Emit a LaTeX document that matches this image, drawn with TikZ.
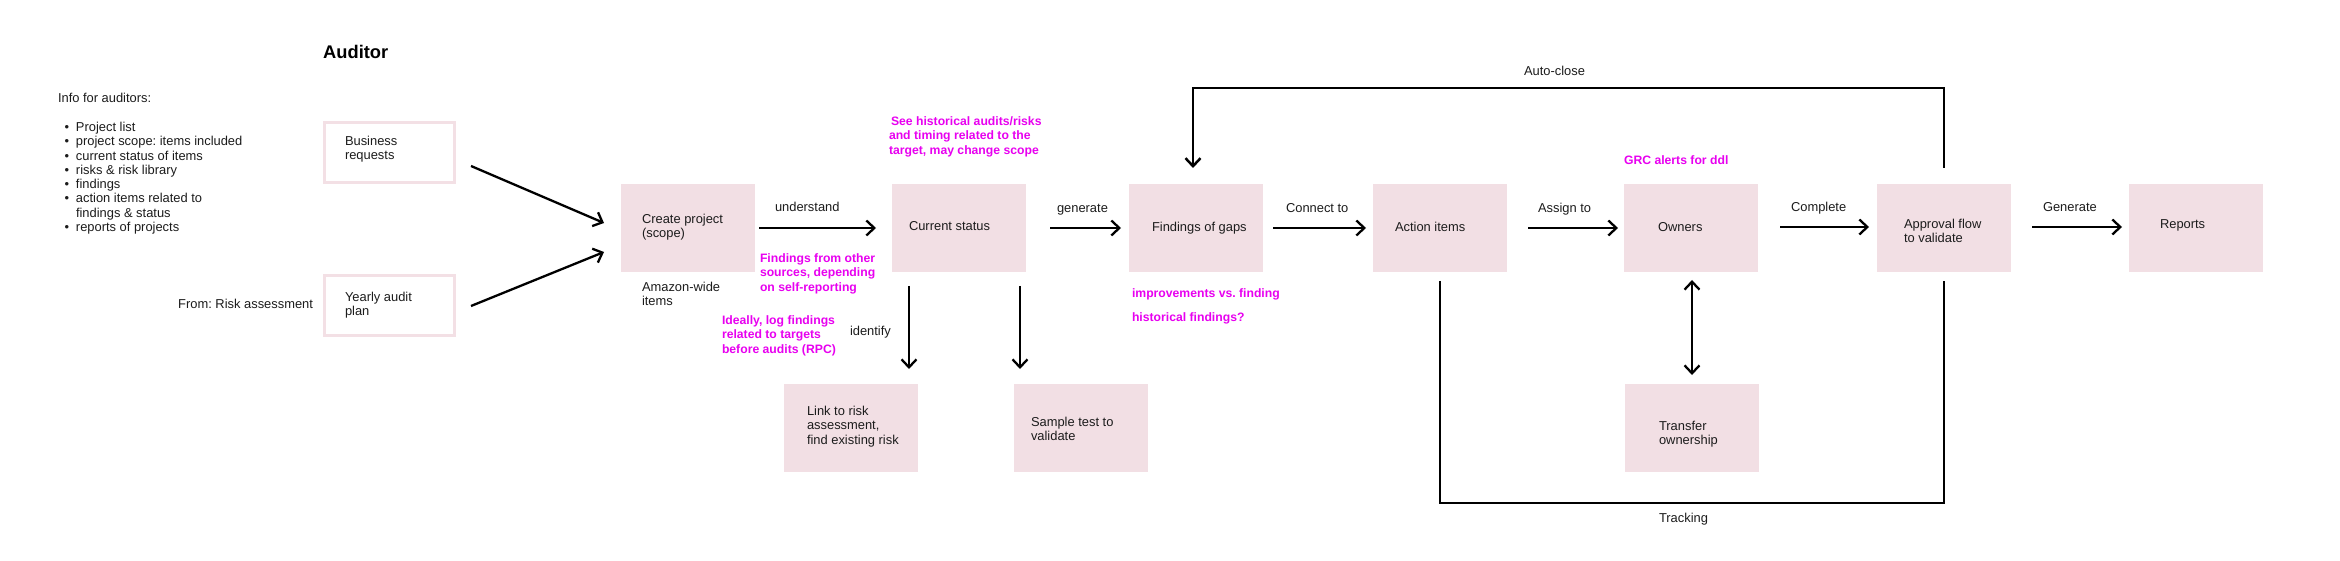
\documentclass[tikz,border=0pt]{standalone}
\usepackage{fontspec}
\setmainfont{Liberation Sans}
\usetikzlibrary{arrows.meta}
\definecolor{boxpink}{RGB}{242,223,228}
\definecolor{edgepink}{RGB}{243,224,229}
\definecolor{mag}{RGB}{232,0,240}
\definecolor{ink}{RGB}{28,28,28}
\newcommand{\fl}{\rule{0pt}{10pt}}
\newcommand{\bl}{\makebox[11.5pt][l]{\textbullet}}
\newcommand{\bodyfont}{\fontsize{12.9}{14.3}\selectfont}
\newcommand{\notefont}{\fontsize{12.2}{14.4}\selectfont\bfseries}
\frenchspacing
\begin{document}
\begin{tikzpicture}[x=1pt,y=-1pt,
  pbox/.style={fill=boxpink, minimum width=134pt, minimum height=88pt, inner sep=0pt, outer sep=0pt},
  obox/.style={draw=edgepink, line width=3pt, fill=white, minimum width=130pt, minimum height=60pt, inner sep=0pt, outer sep=0pt},
  txt/.style={inner sep=0pt, outer sep=0pt, anchor=north west, align=left, font=\bodyfont, text=ink},
  note/.style={inner sep=0pt, outer sep=0pt, anchor=north west, align=left, font=\notefont, text=mag},
  arr/.style={draw=black, line width=2.3pt, -{Straight Barb[length=8pt,width=15pt]}},
  dblarr/.style={draw=black, line width=2.3pt, {Straight Barb[length=8pt,width=15pt]}-{Straight Barb[length=8pt,width=15pt]}},
  route/.style={draw=black, line width=2.5pt},
]
\fill[white] (0,0) rectangle (2340,561);
\useasboundingbox (0,0) rectangle (2340,561);

% boxes
\node[obox] (br) at (389.5,152.5) {};
\node[obox] (ya) at (389.5,305.5) {};
\node[pbox] (cp) at (688,228) {};
\node[pbox] (cs) at (959,228) {};
\node[pbox] (fg) at (1196,228) {};
\node[pbox] (ai) at (1440,228) {};
\node[pbox] (ow) at (1691,228) {};
\node[pbox] (ap) at (1944,228) {};
\node[pbox] (rp) at (2196,228) {};
\node[pbox] (lk) at (851,428) {};
\node[pbox] (st) at (1081,428) {};
\node[pbox] (tr) at (1692,428) {};

% connectors
\draw[arr] ([xshift=16.5pt,yshift=-13.5pt]br.east) -- ([xshift=-17pt,yshift=5pt]cp.west);
\draw[arr] ([xshift=16.5pt,yshift=-0.5pt]ya.east) -- ([xshift=-17pt,yshift=-24pt]cp.west);
\draw[arr] ([xshift=4pt]cp.east) -- ([xshift=-16pt]cs.west);
\draw[arr] ([xshift=24pt]cs.east) -- ([xshift=-8pt]fg.west);
\draw[arr] ([xshift=10pt]fg.east) -- ([xshift=-7pt]ai.west);
\draw[arr] ([xshift=21pt]ai.east) -- ([xshift=-6pt]ow.west);
\draw[arr] ([xshift=22pt,yshift=1pt]ow.east) -- ([xshift=-8pt,yshift=1pt]ap.west);
\draw[arr] ([xshift=21pt,yshift=1pt]ap.east) -- ([xshift=-7pt,yshift=1pt]rp.west);
\draw[arr] ([xshift=-50pt,yshift=-14pt]cs.south) -- ([xshift=58pt,yshift=15pt]lk.north);
\draw[arr] ([xshift=61pt,yshift=-14pt]cs.south) -- ([xshift=-61pt,yshift=15pt]st.north);
\draw[dblarr] ([xshift=1pt,yshift=-8pt]ow.south) -- ([yshift=9pt]tr.north);
\draw[route, -{Straight Barb[length=8pt,width=15pt]}] ([yshift=16pt]ap.north) -- ++(0,-80) -| ([xshift=-3pt,yshift=16pt]fg.north);
\draw[route] ([yshift=-9pt]ai.south) -- ++(0,222) -| ([yshift=-9pt]ap.south);

% title
\node[inner sep=0pt, anchor=base west, font=\fontsize{18.3}{22}\selectfont\bfseries, text=black] (ttl) at (323,59) {Auditor};

% left info
\node[txt] (info) at (58,92.5) {\fl Info for auditors:};
\node[txt] (list) at (64.5,121.5) {\fl\bl Project list\\
\bl project scope: items included\\
\bl current status of items\\
\bl risks \& risk library\\
\bl findings\\
\bl action items related to\\
\hspace*{11.5pt}findings \& status\\
\bl reports of projects};
\node[txt, anchor=north east] (from) at (313,298.5) {\fl From: Risk assessment};

% box texts
\node[txt] (brt) at (345,135.5) {\fl Business\\requests};
\node[txt] (yat) at (345,291.5) {\fl Yearly audit\\plan};
\node[txt] (cpt) at (642,213.5) {\fl Create project\\(scope)};
\node[txt] (cst) at (909,220.5) {\fl Current status};
\node[txt] (fgt) at (1152,221.5) {\fl Findings of gaps};
\node[txt] (ait) at (1395,221.5) {\fl Action items};
\node[txt] (owt) at (1658,221.5) {\fl Owners};
\node[txt] (apt) at (1904,218.5) {\fl Approval flow\\to validate};
\node[txt] (rpt) at (2160,218.5) {\fl Reports};
\node[txt] (lkt) at (807,405.5) {\fl Link to risk\\assessment,\\find existing risk};
\node[txt] (stt) at (1031,416.5) {\fl Sample test to\\validate};
\node[txt] (trt) at (1659,420.5) {\fl Transfer\\ownership};

% connector labels
\node[txt] (amz) at (642,281.5) {\fl Amazon-wide\\items};
\node[txt] (lund) at (775,201.5) {\fl understand};
\node[txt] (lidn) at (850,325.5) {\fl identify};
\node[txt] (lgen) at (1057,202.5) {\fl generate};
\node[txt] (lcon) at (1286,202.5) {\fl Connect to};
\node[txt] (lass) at (1538,202.5) {\fl Assign to};
\node[txt] (lcom) at (1791,201.5) {\fl Complete};
\node[txt] (lGen) at (2043,201.5) {\fl Generate};
\node[txt] (lauto) at (1524,65.5) {\fl Auto-close};
\node[txt] (ltrk) at (1659,512.5) {\fl Tracking};

% magenta notes
\node[note] (n1) at (889,115.5) {\fl\hspace*{2pt}See historical audits/risks\\and timing related to the\\target, may change scope};
\node[note] (n2) at (760,252.5) {\fl Findings from other\\sources, depending\\on self-reporting};
\node[note] (n3) at (722,314.5) {\fl Ideally, log findings\\related to targets\\before audits (RPC)};
\node[note] (n4) at (1132,287.5) {\fl improvements vs. finding};
\node[note] (n5) at (1132,311.5) {\fl historical findings?};
\node[note] (n6) at (1624,154.5) {\fl GRC alerts for ddl};
\end{tikzpicture}
\end{document}
